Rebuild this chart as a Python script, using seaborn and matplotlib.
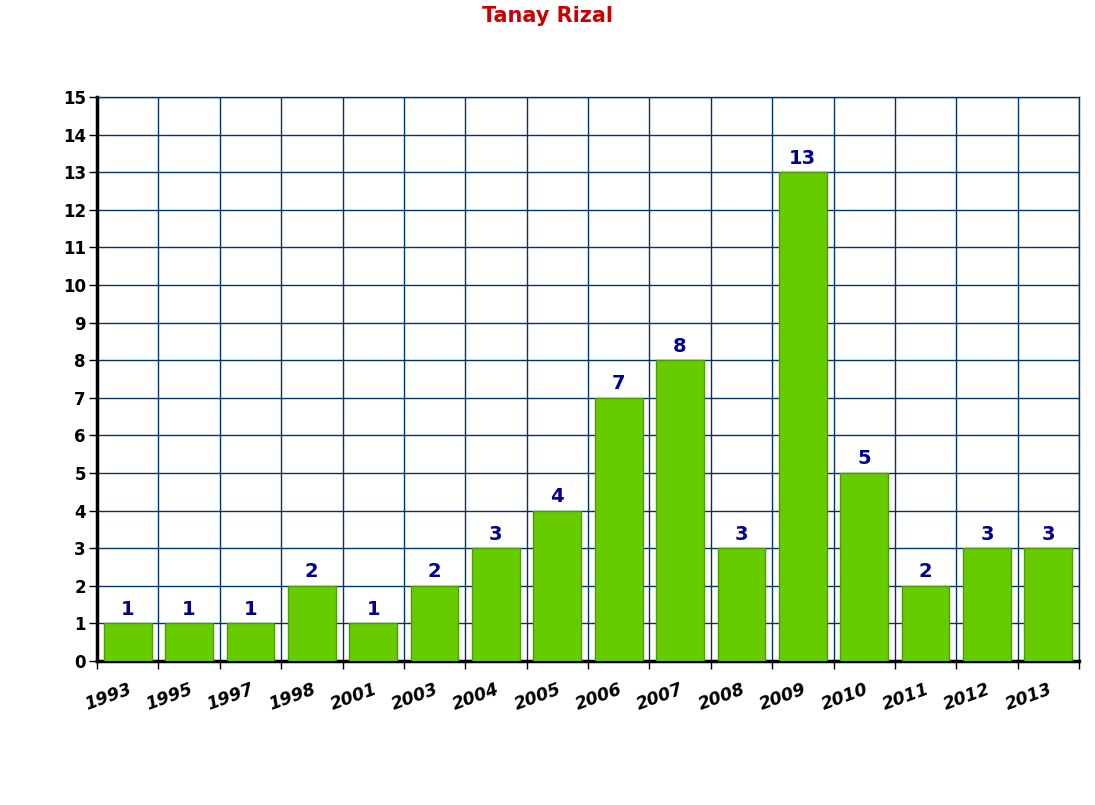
import numpy as np
import matplotlib
matplotlib.use("Agg")
import matplotlib.pyplot as plt
import pandas as pd
import seaborn as sns

years = ["1993", "1995", "1997", "1998", "2001", "2003", "2004", "2005",
         "2006", "2007", "2008", "2009", "2010", "2011", "2012", "2013"]
counts = [1, 1, 1, 2, 1, 2, 3, 4, 7, 8, 3, 13, 5, 2, 3, 3]
title = "Tanay Rizal"

sns.set_style("white")
plt.rcParams['font.family'] = ['DejaVu Sans']

df = pd.DataFrame({"year": years, "count": counts})

fig = plt.figure(figsize=(10.95, 8.05), dpi=100)
ax = fig.add_axes([97 / 1095, 1 - 661 / 805, (1079 - 97) / 1095, (661 - 97) / 805])

grid_col = "#003366"
sns.barplot(data=df, x="year", y="count", color="#66CC00", saturation=1,
            width=0.78, edgecolor="#4E9A06", linewidth=1, ax=ax, zorder=3)

n = len(years)
ax.set_xlim(-0.5, n - 0.5)
ax.set_ylim(0, 15)
ax.set_yticks(range(0, 16))
ax.set_xticks(np.arange(n + 1) - 0.5, minor=True)
ax.grid(True, which="minor", axis="x", color=grid_col, linewidth=1, zorder=0)
ax.grid(True, which="major", axis="y", color=grid_col, linewidth=1, zorder=0)
ax.set_axisbelow(True)

for s in ["top", "right"]:
    ax.spines[s].set_color(grid_col)
    ax.spines[s].set_linewidth(1)
for s in ["left", "bottom"]:
    ax.spines[s].set_color("black")
    ax.spines[s].set_linewidth(2.5)

ax.tick_params(axis="x", which="major", bottom=True, length=0, pad=14, labelcolor="black")
ax.tick_params(axis="x", which="minor", bottom=True, length=6, width=1, color="black", direction="out")
ax.tick_params(axis="y", left=True, length=6, width=1, color="black", pad=2, labelcolor="black")
ax.set_xticks(range(n))
ax.set_xticklabels(years, rotation=20, ha="right", fontsize=12.5,
                   fontweight="bold", style="italic", rotation_mode="anchor")
for lab in ax.get_yticklabels():
    lab.set_fontsize(12)
    lab.set_fontweight("bold")
ax.set_xlabel("")
ax.set_ylabel("")

for i, v in enumerate(counts):
    ax.text(i, v + 0.12, str(v), ha="center", va="bottom", color="#000099",
            fontsize=14, fontweight="bold")

fig.text(548 / 1095, 1 - 16 / 805, title, ha="center", va="center",
         color="#CC0000", fontsize=15, fontweight="bold")

fig.savefig("out.png", dpi=100)
